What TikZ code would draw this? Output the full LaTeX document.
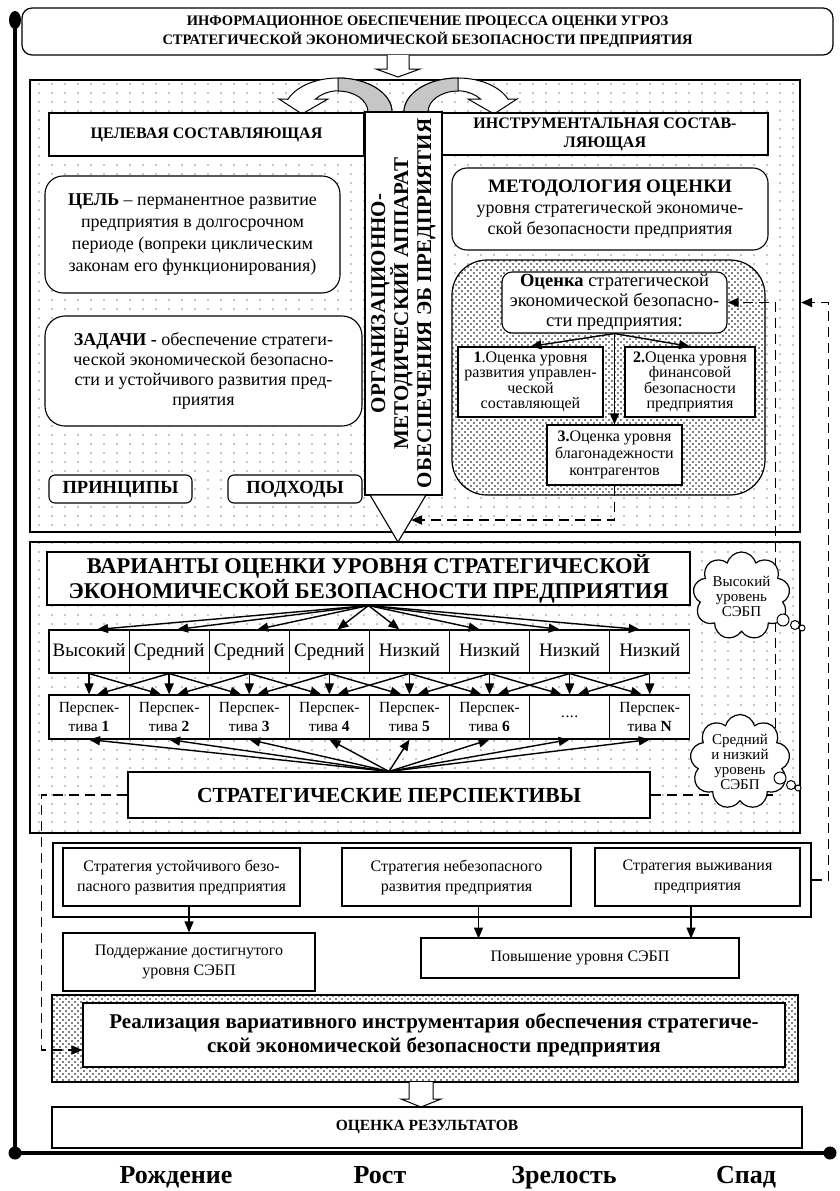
\documentclass[tikz,border=0pt]{standalone}
\usepackage{fontspec}
\setmainfont{Liberation Serif}
\usetikzlibrary{arrows.meta, patterns, shapes.symbols}

\pgfdeclarepatternformonly{sparsedots}{\pgfqpoint{-1pt}{-1pt}}{\pgfqpoint{1pt}{1pt}}{\pgfqpoint{13pt}{9pt}}{\pgfpathcircle{\pgfqpoint{0pt}{0pt}}{0.7pt}\pgfusepath{fill}}
\pgfdeclarepatternformonly{densedots}{\pgfqpoint{-1pt}{-1pt}}{\pgfqpoint{4pt}{4pt}}{\pgfqpoint{6pt}{6pt}}{\pgfpathcircle{\pgfqpoint{0pt}{0pt}}{0.8pt}\pgfpathcircle{\pgfqpoint{3pt}{3pt}}{0.8pt}\pgfusepath{fill}}

\newcommand\setfs[2]{\fontsize{#1}{#2}\selectfont}

\tikzset{
	box/.style={draw, fill=white, line width=1.1pt, align=center, inner sep=1pt},
	rbox/.style={box, rounded corners=#1},
	rbox/.default=12pt,
	panel/.style={draw, line width=2pt, pattern=sparsedots, inner sep=0pt},
	arr/.style={line width=1.4pt, -{Triangle[length=11pt, width=9pt]}},
	fb/.style={arr, line width=1.7pt, dash pattern=on 10pt off 6pt},
	hollow/.style={draw, fill=white, line width=1pt},
	thought/.style={cloud, cloud puffs=9, cloud ignores aspect, draw, fill=white, line width=1.2pt, align=center, inner sep=0pt, font=\setfs{15}{15}},
}

\begin{document}
\begin{tikzpicture}[x=1pt, y=-1pt]
	\useasboundingbox (0,0) rectangle (839,1191);
	% frames and time axis
	\node[panel, minimum width=770pt, minimum height=452pt] (top) at (415,306) {};
	\node[panel, minimum width=770pt, minimum height=291pt] (mid) at (415,687.5) {};
	\draw[line width=1.2pt, preaction={fill=white}, pattern=densedots, rounded corners=35pt] (452,260) rectangle (765,495);
	\draw[line width=1.2pt, preaction={fill=white}, pattern=densedots] (52,995) rectangle (798,1082);
	\draw[line width=4pt] (15,20) -- (15,1153) -- (830,1153);
	\fill (15,20) ellipse (6 and 9);
	\fill (15,1153) circle (6.5) (830,1153) circle (6.5);

	\node[rbox=10pt, line width=1.2pt, minimum width=811pt, minimum height=47pt, font=\setfs{14.5}{19}\bfseries] (title) at (427.5,31.5) {ИНФОРМАЦИОННОЕ ОБЕСПЕЧЕНИЕ ПРОЦЕССА ОЦЕНКИ УГРОЗ\\СТРАТЕГИЧЕСКОЙ ЭКОНОМИЧЕСКОЙ БЕЗОПАСНОСТИ ПРЕДПРИЯТИЯ};
	\coordinate (in) at (398,55);
	\draw[hollow] (in) ++(-11,0) -- ++(0,14) -- ++(-11,0) -- ++(22,8) -- ++(22,-8) -- ++(-11,0) -- ++(0,-14);

	% turning arrows
	\foreach \s/\m in {0/1, 796/-1} {
		\begin{scope}[xshift=\s pt, xscale=\m, line width=1pt]
			\filldraw[fill=white] (392,112) arc[start angle=0, end angle=-158, x radius=54, y radius=34] -- (279,99) -- (302,114) -- (328,99) -- (315.6,99) arc[start angle=-143, end angle=0, x radius=30, y radius=21] -- cycle;
			\filldraw[fill=gray!45] (392,112) arc[start angle=0, end angle=-90, x radius=54, y radius=34] -- (338,91) arc[start angle=-90, end angle=0, x radius=30, y radius=21] -- cycle;
		\end{scope}
	}

	% target part
	\node[box, minimum width=315pt, minimum height=43pt, font=\setfs{16}{18}\bfseries] (goalhdr) at (206.5,134.5) {ЦЕЛЕВАЯ СОСТАВЛЯЮЩАЯ};
	\node[rbox=18pt, minimum width=295pt, minimum height=117pt, font=\setfs{18}{22}] (goal) at (192.5,234.5) {\textbf{ЦЕЛЬ} – перманентное развитие\\предприятия в долгосрочном\\периоде (вопреки циклическим\\законам его функционирования)};
	\node[rbox=20pt, minimum width=317pt, minimum height=110pt, font=\setfs{18}{20}] (tasks) at (203.5,371) {\textbf{ЗАДАЧИ -} обеспечение стратеги-\\ческой экономической безопасно-\\сти и устойчивого развития пред-\\приятия};
	\node[rbox=6pt, minimum width=143pt, minimum height=28pt, font=\setfs{18.5}{20}\bfseries] (princ) at (120.5,489) {ПРИНЦИПЫ};
	\node[rbox=6pt, minimum width=134pt, minimum height=28pt, font=\setfs{18.5}{20}\bfseries] (appr) at (295,489) {ПОДХОДЫ};

	% apparatus
	\node[box, rotate=90, minimum width=383pt, minimum height=77pt, font=\setfs{21}{23}\bfseries] (org) at (403.5,303.5) {ОРГАНИЗАЦИОННО-\\МЕТОДИЧЕСКИЙ АППАРАТ\\ОБЕСПЕЧЕНИЯ ЭБ ПРЕДПРИЯТИЯ};
	\filldraw[fill=white, line width=1.1pt] (370,495) -- (398,542) -- (426,495) -- cycle;
	\coordinate (tri) at (411,520);

	% instrumental part
	\node[box, minimum width=326pt, minimum height=42pt, font=\setfs{16}{19}\bfseries] (instrhdr) at (605,134) {ИНСТРУМЕНТАЛЬНАЯ СОСТАВ-\\ЛЯЮЩАЯ};
	\node[rbox=15pt, minimum width=316pt, minimum height=82pt, font=\setfs{18}{21}] (method) at (610,209) {{\setfs{19}{21}\bfseries МЕТОДОЛОГИЯ ОЦЕНКИ}\\уровня стратегической экономиче-\\ской безопасности предприятия};
	\node[rbox=10pt, minimum width=225pt, minimum height=61pt, font=\setfs{18.5}{20}] (ev) at (614.5,302.5) {\textbf{Оценка} стратегической\\экономической безопасно-\\сти предприятия:};
	\node[box, minimum width=145pt, minimum height=70pt, font=\setfs{16}{15.5}] (c1) at (530.5,382) {\textbf{1}.Оценка уровня\\развития управлен-\\ческой\\составляющей};
	\node[box, minimum width=130pt, minimum height=70pt, font=\setfs{16}{15.5}] (c2) at (690,382) {\textbf{2.}Оценка уровня\\финансовой\\безопасности\\предприятия};
	\node[box, minimum width=135pt, minimum height=60pt, font=\setfs{16}{17}] (c3) at (614.5,455) {\textbf{3.}Оценка уровня\\благонадежности\\контрагентов};
	\draw[arr] (ev.south) -- (c1.north);
	\draw[arr] (ev.south) -- (c2.north);
	\draw[arr] (ev.south) -- (c3.north);

	% variants
	\node[box, minimum width=643pt, minimum height=53pt, font=\setfs{22.5}{25}\bfseries] (var) at (368.5,578.5) {ВАРИАНТЫ ОЦЕНКИ УРОВНЯ СТРАТЕГИЧЕСКОЙ\\ЭКОНОМИЧЕСКОЙ БЕЗОПАСНОСТИ ПРЕДПРИЯТИЯ};
	\foreach \t [count=\i] in {Высокий, Средний, Средний, Средний, Низкий, Низкий, Низкий, Низкий}
		\node[box, minimum width=80.1pt, minimum height=43pt, text height=13pt, text depth=4pt, font=\setfs{19}{20}] (l\i) at ({49+80.1*(\i-0.5)},651.5) {\t};
	\foreach \t [count=\i] in {{Перспек-\\тива \textbf{1}}, {Перспек-\\тива \textbf{2}}, {Перспек-\\тива \textbf{3}}, {Перспек-\\тива \textbf{4}}, {Перспек-\\тива \textbf{5}}, {Перспек-\\тива \textbf{6}}, {.\kern.5pt.\kern.5pt.\kern.5pt.}, {Перспек-\\тива \textbf{N}}}
		\node[box, minimum width=80.1pt, minimum height=44pt, font=\setfs{15.5}{19}] (p\i) at ({49+80.1*(\i-0.5)},717) {\t};
	\node[box, minimum width=522pt, minimum height=46pt, font=\setfs{21.5}{24}\bfseries] (sp) at (389,795) {СТРАТЕГИЧЕСКИЕ ПЕРСПЕКТИВЫ};
	\foreach \i in {1,...,8} {
		\pgfmathsetmacro\dx{\i<5 ? 8 : -10}
		\draw[arr] (var.south) -- ([xshift=\dx pt]l\i.north);
		\draw[arr] (l\i.south) -- (p\i.north);
		\draw[arr] (sp.north) -- (p\i.south);
	}
	\foreach \a/\b in {1/2, 2/3, 3/4, 4/5, 5/6, 6/7, 7/8} {
		\draw[arr] (l\a.south) -- ([xshift=-8pt]p\b.north);
		\draw[arr] (l\b.south) -- ([xshift=8pt]p\a.north);
	}

	% strategies
	\node[draw, fill=white, line width=1.1pt, minimum width=758pt, minimum height=74pt] (strat) at (432,880) {};
	\node[box, minimum width=237pt, minimum height=58pt, font=\setfs{16}{20}] (s1) at (181.5,877) {Стратегия устойчивого безо-\\пасного развития предприятия};
	\node[box, minimum width=229pt, minimum height=58pt, font=\setfs{16}{20}] (s2) at (456.5,877) {Стратегия небезопасного\\развития предприятия};
	\node[box, minimum width=205pt, minimum height=58pt, font=\setfs{16}{20}] (s3) at (697.5,877) {Стратегия выживания\\предприятия};
	\node[box, minimum width=252pt, minimum height=58pt, font=\setfs{16}{20}] (m1) at (189,962) {Поддержание достигнутого\\уровня СЭБП};
	\node[box, minimum width=318pt, minimum height=40pt, font=\setfs{16}{20}] (m2) at (580,958) {Повышение уровня СЭБП};
	\draw[arr] (m1.north |- s1.south) -- (m1.north);
	\draw[arr] ([xshift=22pt]s2.south) -- ++(0,32);
	\draw[arr] ([xshift=-6.5pt]s3.south) -- ++(0,32);

	\node[box, minimum width=702pt, minimum height=64pt, font=\setfs{21}{24}\bfseries] (real) at (434,1035) {Реализация вариативного инструментария обеспечения стратегиче-\\ской экономической безопасности предприятия};
	\coordinate (out) at (421,1082);
	\draw[hollow] (out) ++(-12,0) -- ++(0,17) -- ++(-8,0) -- ++(20,8) -- ++(20,-8) -- ++(-8,0) -- ++(0,-17);
	\node[box, minimum width=750pt, minimum height=41pt, font=\setfs{15.5}{17}\bfseries] (res) at (427,1127.5) {ОЦЕНКА РЕЗУЛЬТАТОВ};

	% feedback
	\draw[fb] (c3.south) |- (tri);
	\draw[fb] (sp.east) -- ++(125,0) |- (ev.east);
	\draw[fb] (strat.east) -- ++(17,0) |- (top.east |- ev.east);
	\draw[fb] (sp.west) -- ++(-86,0) |- ([yshift=-15pt]real.west);

	% levels
	\node[thought, minimum width=97pt, minimum height=88pt] (cl1) at (741.5,596) {Высокий\\уровень\\СЭБП};
	\node[thought, minimum width=100pt, minimum height=90pt] (cl2) at (740,762) {Средний\\и низкий\\уровень\\СЭБП};
	\filldraw[fill=white, line width=1pt] (783,620) circle (6) (795,625) circle (4.5) (802,628) circle (3);
	\filldraw[fill=white, line width=1pt] (780,778) circle (6) (791,785) circle (4.5) (798,788) circle (3);

	\foreach \t/\x [count=\k] in {Рождение/176, Рост/380, Зрелость/564, Спад/746}
		\node[inner sep=0pt, anchor=base, font=\setfs{26}{28}\bfseries] (st\k) at (\x,1183) {\t};
\end{tikzpicture}
\end{document}
